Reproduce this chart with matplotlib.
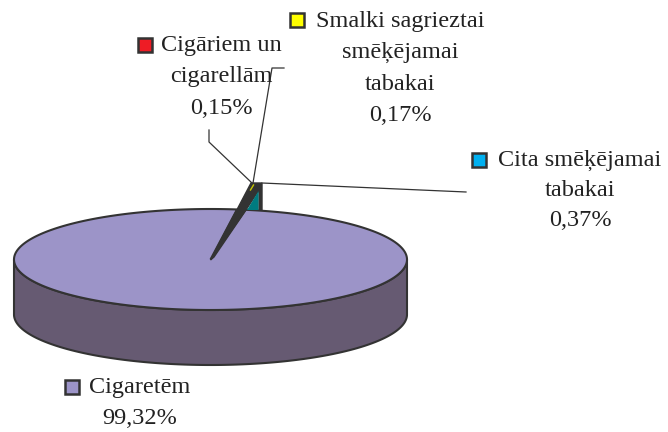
import numpy as np
import matplotlib.pyplot as plt
from matplotlib.patches import Polygon, Rectangle

# --- data ---
categories = ["Cigaretēm", "Cigāriem un\ncigarellām", "Smalki sagrieztai\nsmēķējamai\ntabakai", "Cita smēķējamai\ntabakai"]
shares = [99.32, 0.15, 0.17, 0.37]
labels = ["99,32%", "0,15%", "0,17%", "0,37%"]
marker_colors = ["#9C94C8", "#EE1C25", "#FFFF00", "#00B0F0"]

top_color = "#9C94C8"
side_color = "#665A72"
edge = "#333333"
teal = "#007B80"

fig = plt.figure(figsize=(6.68, 4.32), dpi=100)
ax = fig.add_axes([0, 0, 1, 1])
ax.set_xlim(0, 668)
ax.set_ylim(432, 0)
ax.axis("off")

# --- pie geometry (pixel space) ---
cx, cy = 210.5, 259.5
a, b = 196.5, 50.5
depth = 55

# small slices sit together around this angle (deg, on the unprojected circle)
small_total = sum(shares[1:]) / 100 * 360
mid = 81
start = mid + small_total / 2
end = mid - small_total / 2 + 360

# side wall (front half)
t = np.linspace(np.pi, 2 * np.pi, 200)
front_x = cx + a * np.cos(t)
front_y = cy - b * np.sin(t)
side = np.concatenate([
    np.column_stack([front_x, front_y]),
    np.column_stack([front_x[::-1], front_y[::-1] + depth]),
])
ax.add_patch(Polygon(side, closed=True, fc=side_color, ec=edge, lw=1.5, zorder=1))

# top face: the big slice
tt = np.radians(np.linspace(start, end, 400))
top = np.column_stack([cx + a * np.cos(tt), cy - b * np.sin(tt)])
top = np.vstack([[cx, cy], top])
ax.add_patch(Polygon(top, closed=True, fc=top_color, ec=edge, lw=1.5, zorder=2))

# lifted small slices (thin sliver + side of the "Cita" slice)
tip_l = (251, 183)
tip_r = (262, 183)
sliver = [(cx, cy + 0.5), tip_l, tip_r, (262, 210), (259, 210), (259, 190), (246, 210), (214, 257)]
ax.add_patch(Polygon(sliver, closed=True, fc=edge, ec=edge, lw=1, zorder=3))
ax.add_patch(Polygon([(247, 210), (258.5, 191), (258.5, 210)], closed=True,
                     fc=teal, ec="none", zorder=4))
ax.plot([250.5, 253.5], [190, 185], color="#C8C800", lw=1, zorder=5)

# --- leader lines ---
lc = "#333333"
ax.plot([209, 209, 252], [130, 142, 183], color=lc, lw=0.9, zorder=0)
ax.plot([284, 272, 253], [68, 68, 183], color=lc, lw=0.9, zorder=0)
ax.plot([262, 466], [183, 192], color=lc, lw=0.9, zorder=0)

# --- labels ---
font = dict(family="Liberation Serif", size=17.5, color="#222222")
# (text center x, first line y, line step, marker center)
layout = [
    (140, 388, 31, (72, 387)),
    (221, 45, 31.5, (145, 45)),
    (400, 21, 31.5, (297, 20)),
    (580, 160, 30.5, (479, 160)),
]

for cat, lab, col, (tx, ty, step, (mx, my)) in zip(categories, labels, marker_colors, layout):
    lines = cat.split("\n") + [lab]
    for i, line in enumerate(lines):
        ax.text(tx, ty + i * step, line, ha="center", va="center", **font)
    ax.add_patch(Rectangle((mx - 7, my - 7), 14, 14, fc=col, ec=edge, lw=1.8, zorder=6))

fig.savefig("out.png", dpi=100)
